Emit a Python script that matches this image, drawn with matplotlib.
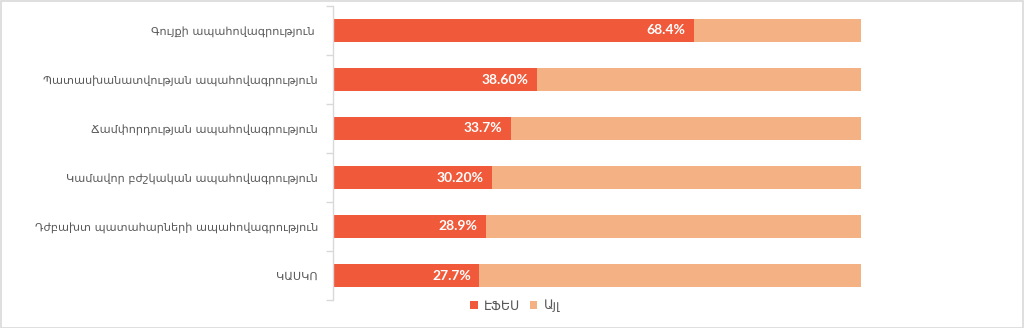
import matplotlib
matplotlib.use("Agg")
import matplotlib.pyplot as plt
from matplotlib.patches import Rectangle
from matplotlib.ticker import FixedLocator

categories = [
    "Գույքի ապահովագրություն ",
    "Պատասխանատվության ապահովագրություն",
    "Ճամփորդության ապահովագրություն",
    "Կամավոր բժշկական ապահովագրություն",
    "Դժբախտ պատահարների ապահովագրություն",
    "ԿԱՍԿՈ",
]
efes_values = [68.4, 38.6, 33.7, 30.2, 28.9, 27.7]
other_values = [31.6, 61.4, 66.3, 69.8, 71.1, 72.3]
value_labels = ["68.4%", "38.60%", "33.7%", "30.20%", "28.9%", "27.7%"]
series_names = ["ԷՖԵՍ", "Այլ"]

RED = "#F05A3A"
PEACH = "#F4B183"
GRAY_TXT = "#595959"
GRID = "#D9D9D9"

W, H = 1024, 328
fig = plt.figure(figsize=(W / 100, H / 100), dpi=100)
ax = fig.add_axes([333 / W, (H - 300) / H, (861 - 333) / W, 294 / H])

n = len(categories)
y = list(range(n))
ax.barh(y, efes_values, height=0.45, color=RED, label=series_names[0])
ax.barh(y, other_values, left=efes_values, height=0.45, color=PEACH, label=series_names[1])

for yi, v, lab in zip(y, efes_values, value_labels):
    ax.text(v - 1.6, yi, lab, ha="right", va="center", color="white",
            fontsize=10, fontweight="bold", family=["Lato", "DejaVu Sans"])

ax.set_xlim(0, 100)
ax.set_ylim(n - 0.5, -0.5)
ax.set_yticks(y)
ax.set_yticklabels(categories, fontsize=8.1, color=GRAY_TXT, family=["DejaVu Sans"])
ax.tick_params(axis="y", which="major", length=0, pad=10.8)
ax.yaxis.set_minor_locator(FixedLocator([i - 0.5 for i in range(n + 1)]))
ax.tick_params(axis="y", which="minor", length=5, color=GRID, width=1)
ax.set_xticks([])
for s in ["top", "right", "bottom"]:
    ax.spines[s].set_visible(False)
ax.spines["left"].set_color(GRID)
ax.spines["left"].set_linewidth(1)

leg = fig.legend(loc="center", bbox_to_anchor=(0.503, (H - 306) / H), ncol=2,
                 frameon=False, handlelength=0.6, handleheight=0.6,
                 handletextpad=0.5, columnspacing=0.8,
                 prop={"family": ["DejaVu Sans"], "size": 9})
for t in leg.get_texts():
    t.set_color(GRAY_TXT)

fig.patches.append(Rectangle((0.5 / W, 0.5 / H), 1 - 1.5 / W, 1 - 1.5 / H,
                             transform=fig.transFigure, fill=False,
                             edgecolor=GRID, linewidth=1.2))

fig.savefig("out.png", dpi=100)
